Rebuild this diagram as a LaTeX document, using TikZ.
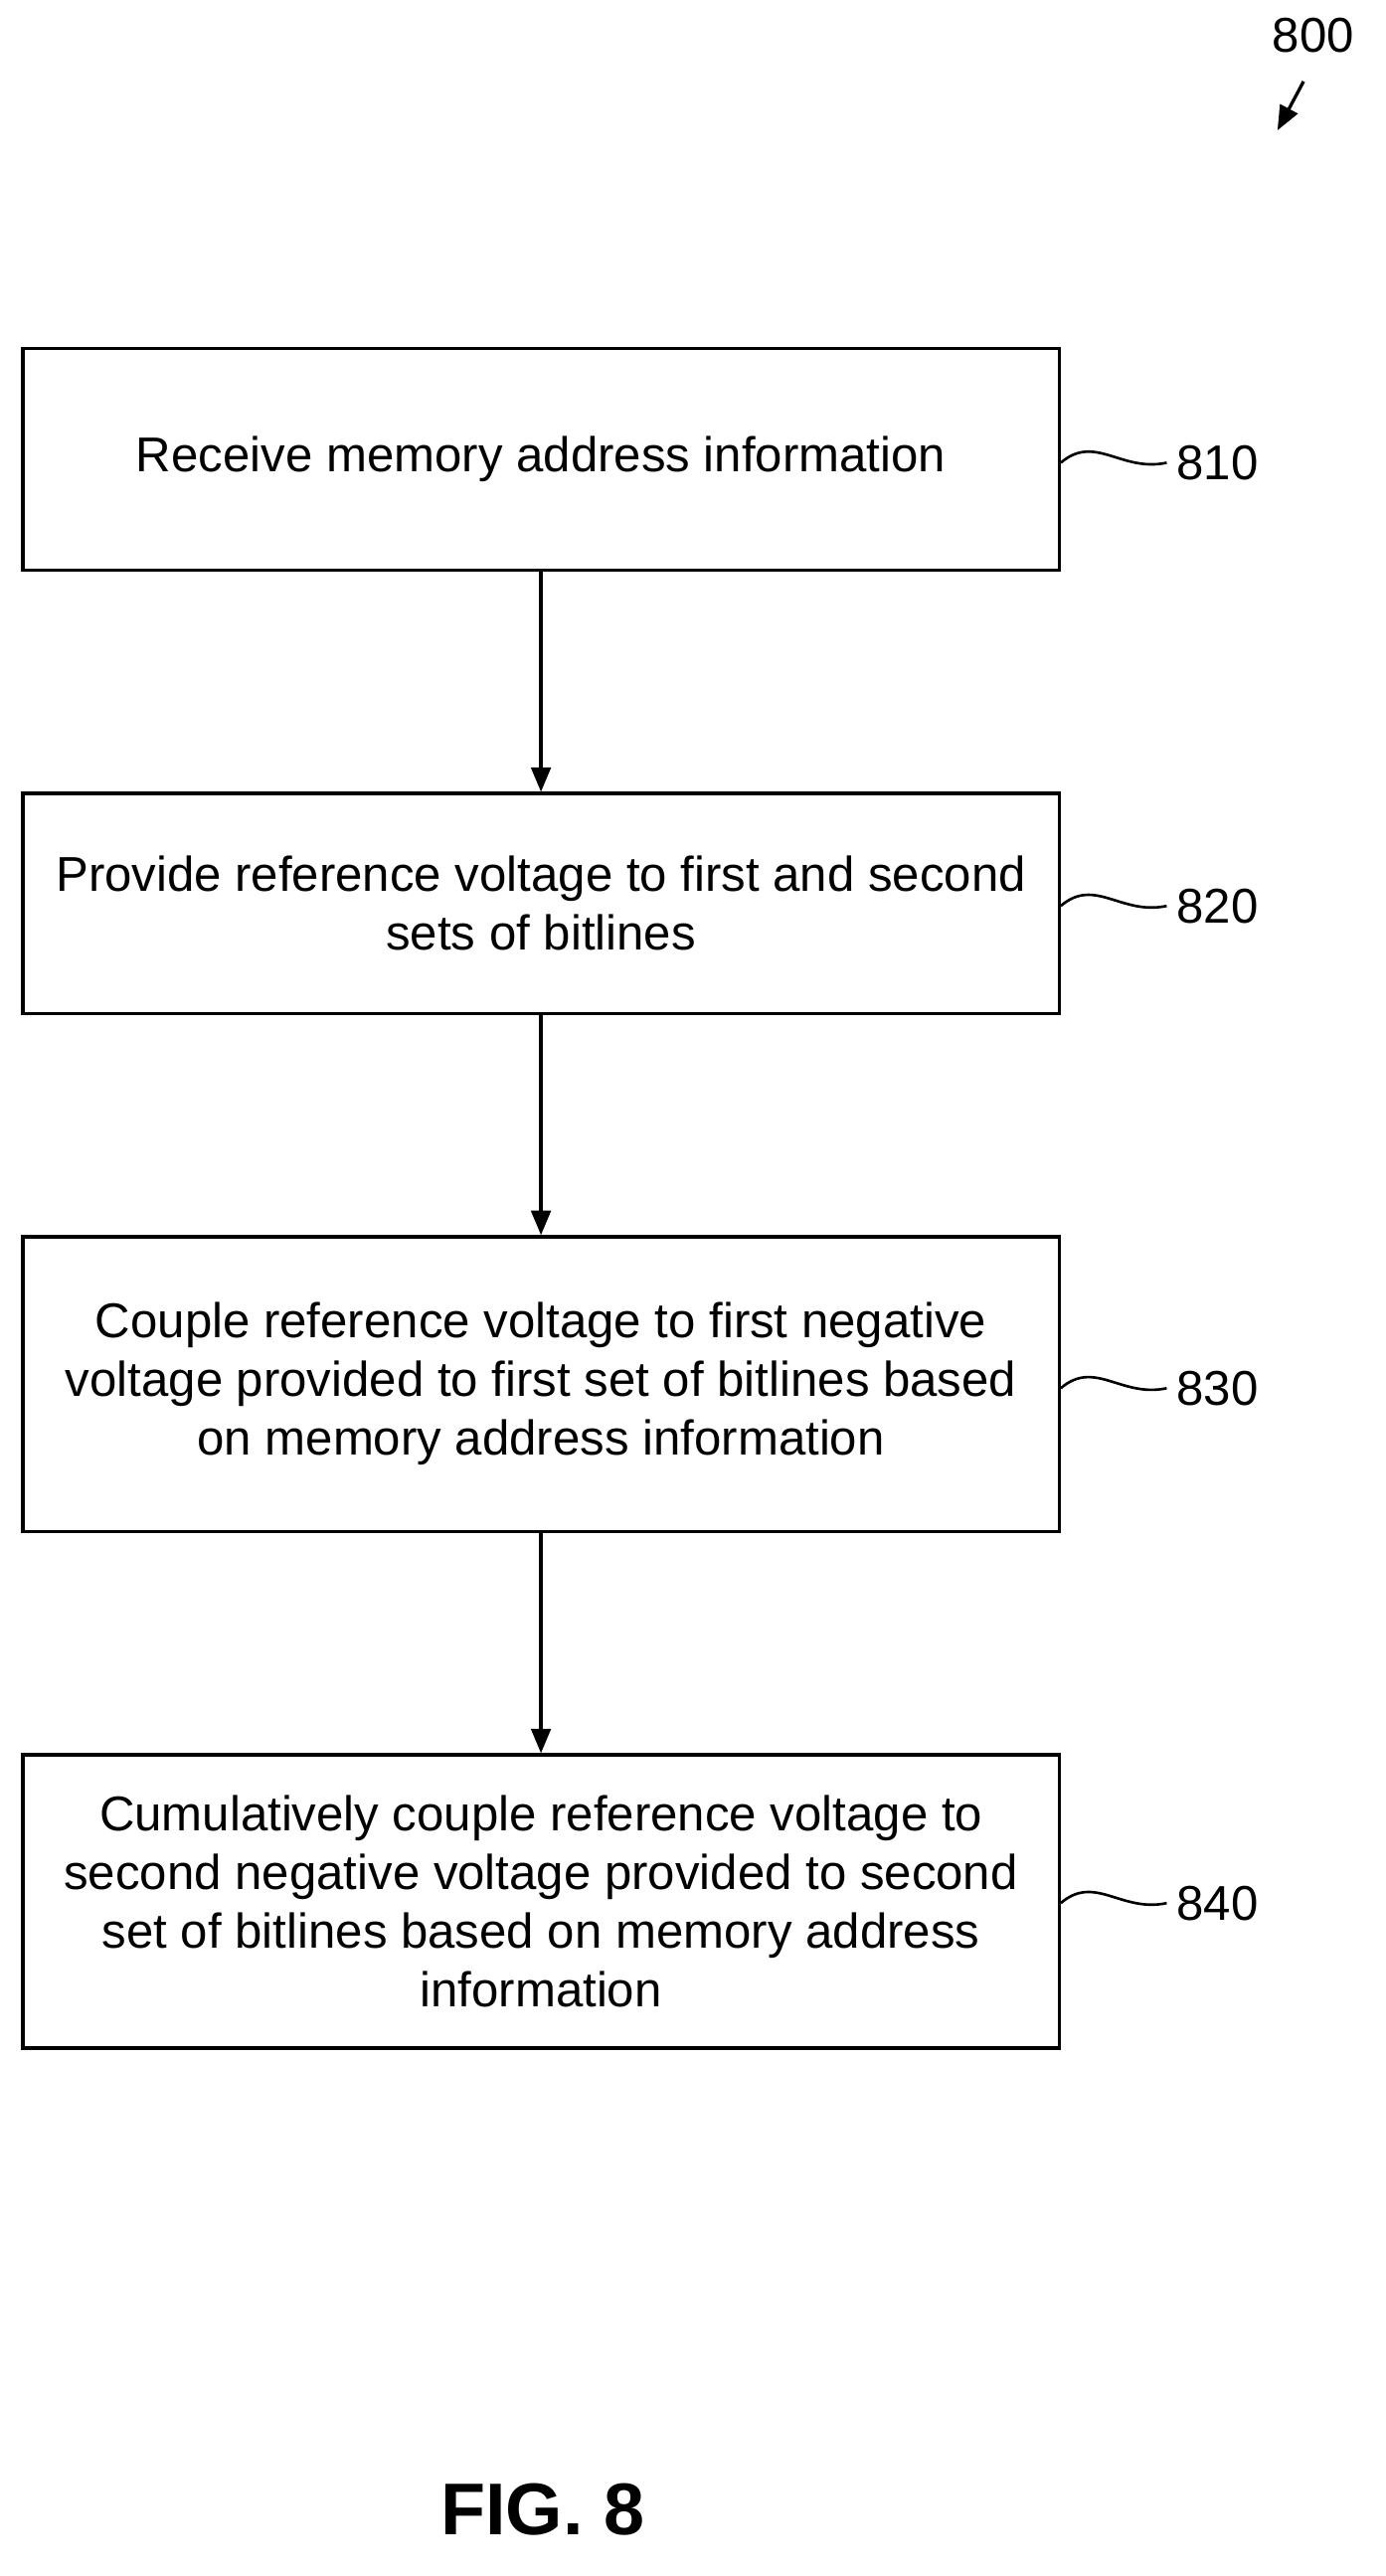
\documentclass[tikz,border=0pt]{standalone}
\usepackage{fontspec}
\setmainfont{Liberation Sans}
\usetikzlibrary{arrows.meta}
\begin{document}
\begin{tikzpicture}[x=1pt,y=-1pt,
  box/.style={draw,line width=2pt,minimum width=636pt,inner sep=0pt,align=center,font=\fontsize{30}{36}\selectfont},
  lab/.style={anchor=west,font=\fontsize{30}{32}\selectfont,inner sep=0pt},
  arr/.style={line width=2pt,-{Triangle[length=15pt,width=12pt]}},
  sq/.style={line width=1.6pt}]
\useasboundingbox (0,0) rectangle (850,1581);
\node[box,minimum height=136pt] (b1) at (332,282) {Receive memory address information};
\node[box,minimum height=135pt] (b2) at (332,554.5) {Provide reference voltage to first and second\\sets of bitlines};
\node[box,minimum height=181pt] (b3) at (332,849.5) {Couple reference voltage to first negative\\voltage provided to first set of bitlines based\\on memory address information};
\node[box,minimum height=180pt] (b4) at (332,1167) {Cumulatively couple reference voltage to\\second negative voltage provided to second\\set of bitlines based on memory address\\information};
\draw[arr] (b1) -- (b2);
\draw[arr] (b2) -- (b3);
\draw[arr] (b3) -- (b4);
\foreach \b/\t/\y in {b1/810/284,b2/820/556,b3/830/852,b4/840/1168}{
  \node[lab] (l\t) at (722,\y) {\t};
  \draw[sq] (\b.east |- 0,\y) .. controls (672,\y-18) and (688,\y+6) .. ([xshift=-6pt]l\t.west);
}
\node[font=\fontsize{30}{32}\selectfont] (n800) at (806,22) {800};
\coordinate (a800) at (784,80);
\draw[arr] (800,50) -- (a800);
\node[font=\bfseries\fontsize{45}{48}\selectfont] (fig) at (333,1540) {FIG. 8};
\end{tikzpicture}
\end{document}
